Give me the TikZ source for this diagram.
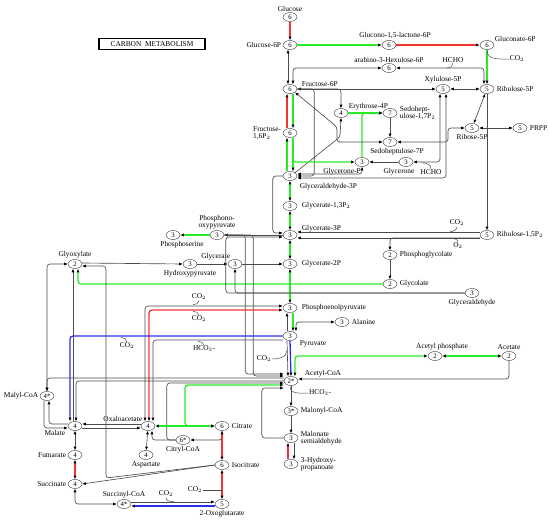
\documentclass[tikz,border=0pt]{standalone}
\usepackage{fontspec}
\setmainfont{Liberation Serif}
\usetikzlibrary{shapes.geometric, arrows.meta, positioning}
\definecolor{kred}{RGB}{245,50,50}
\definecolor{kgreen}{RGB}{40,235,40}
\definecolor{kblue}{RGB}{45,45,235}
\newcommand{\kfont}{\fontsize{7.4}{6.8}\selectfont}
\newcommand{\nfont}{\fontsize{6.8}{6.8}\selectfont}
\tikzstyle{cpd} = [ellipse, draw=black!80, fill=white, inner sep=0pt,
minimum width=14pt, minimum height=9pt, font=\nfont]
\tikzstyle{txt} = [inner sep=0.5pt, font=\kfont, align=left]
\tikzstyle{ln} = [draw=black!70, line width=0.65pt, rounded corners=3pt,
>={Latex[length=3.6pt,width=3pt,color=black]}]

\begin{document}
\begin{tikzpicture}[x=1pt, y=-1pt]
                    % Define styles for coloured lines
                    \tikzstyle{rl} = [ln, draw=kred, line width=1.3pt]
                    \tikzstyle{gl} = [ln, draw=kgreen, line width=1.3pt]
                    \tikzstyle{bl} = [ln, draw=kblue, line width=1.3pt]
                    \tikzstyle{sub} = [draw=black!70, line width=0.5pt]
                    \useasboundingbox (0,0) rectangle (550,522);

                    \node [draw, line width=1.1pt, minimum width=106pt, minimum height=10.5pt, inner sep=0pt, font=\kfont] (title) at (152,44) {CARBON\ \ METABOLISM};

                    % Place nodes
                    \node [cpd] (glc) at (290,17) {6};
                    \node [cpd] (glc6p) at (290,45) {6};
                    \node [cpd] (glcnl) at (389,45) {6};
                    \node [cpd] (glcn6p) at (487,45) {6};
                    \node [cpd] (hex6p) at (389,68) {6};
                    \node [cpd] (fru6p) at (290,89) {6};
                    \node [cpd] (xyl5p) at (443,89) {5};
                    \node [cpd] (ru5p) at (487,89) {5};
                    \node [cpd] (e4p) at (341,113) {4};
                    \node [cpd] (s17p) at (390,113) {7};
                    \node [cpd] (s7p) at (390,142) {7};
                    \node [cpd] (r5p) at (472,128) {5};
                    \node [cpd] (prpp) at (520,128) {5};
                    \node [cpd] (fbp) at (290,133) {6};
                    \node [cpd] (dhap) at (362,162) {3};
                    \node [cpd] (dha) at (406,162) {3};
                    \node [cpd] (gap) at (290,176) {3};
                    \node [cpd] (bpg) at (290,206) {3};
                    \node [cpd] (pg3) at (290,235) {3};
                    \node [cpd] (rubp) at (487,235) {5};
                    \node [cpd] (pglyc) at (390,255) {2};
                    \node [cpd] (glyclt) at (390,284) {2};
                    \node [cpd] (glyald) at (472,293) {3};
                    \node [cpd] (pg2) at (290,264) {3};
                    \node [cpd] (pep) at (290,308) {3};
                    \node [cpd] (ala) at (342,322) {3};
                    \node [cpd] (pyr) at (290,336) {3};
                    \node [cpd] (accoa) at (291,381) {2*};
                    \node [cpd] (acp) at (435,356) {2};
                    \node [cpd] (ace) at (509,356) {2};
                    \node [cpd] (malcoa) at (291,411) {3*};
                    \node [cpd] (msa) at (291,438) {3};
                    \node [cpd] (hp) at (291,464) {3};
                    \node [cpd] (php) at (217,235) {3};
                    \node [cpd] (pser) at (173,235) {3};
                    \node [cpd] (glx) at (75,264) {2};
                    \node [cpd] (hpyr) at (190,264) {3};
                    \node [cpd] (glyc) at (235,264) {3};
                    \node [cpd] (malylcoa) at (47,396) {4*};
                    \node [cpd] (mal) at (75,426) {4};
                    \node [cpd] (oaa) at (148,426) {4};
                    \node [cpd] (cit) at (222,426) {6};
                    \node [cpd] (citcoa) at (183,440) {6*};
                    \node [cpd] (asp) at (146,455) {4};
                    \node [cpd] (fum) at (75,455) {4};
                    \node [cpd] (icit) at (222,465) {6};
                    \node [cpd] (suc) at (75,484) {4};
                    \node [cpd] (succoa) at (124,504) {4*};
                    \node [cpd] (akg) at (222,504) {5};

                    % Compound names
                    \node [txt, above=0.5pt of glc] (glcl) {Glucose};
                    \node [txt, left=1pt of glc6p] (glc6pl) {Glucose-6P};
                    \node [txt, above=1pt of glcnl, xshift=6pt] (glcnll) {Glucono-1,5-lactone-6P};
                    \node [txt, right=0pt of glcn6p, yshift=6pt] (glcn6pl) {Gluconate-6P};
                    \node [txt, above=0.5pt of hex6p] (hex6pl) {arabino-3-Hexulose-6P};
                    \node [txt, right=4pt of fru6p, yshift=5pt] (fru6pl) {Fructose-6P};
                    \node [txt, above=1pt of xyl5p] (xyl5pl) {Xylulose-5P};
                    \node [txt, right=2pt of ru5p] (ru5pl) {Ribulose-5P};
                    \node [txt, right=0pt of e4p, yshift=6pt] (e4pl) {Erythrose-4P};
                    \node [txt, right=2pt of s17p] (s17pl) {Sedohept-\\ulose-1,7P$_2$};
                    \node [txt, below=1pt of s7p, xshift=7pt] (s7pl) {Sedoheptulose-7P};
                    \node [txt, below=1pt of r5p] (r5pl) {Ribose-5P};
                    \node [txt, right=2pt of prpp] (prppl) {PRPP};
                    \node [txt, left=1pt of fbp] (fbpl) {Fructose-\\1,6P$_2$};
                    \node [txt, below=0.5pt of dhap, xshift=-20pt] (dhapl) {Glycerone-P};
                    \node [txt, below=0.5pt of dha, xshift=-7pt] (dhal) {Glycerone};
                    \node [txt, below right=3pt and 4pt of gap] (gapl) {Glyceraldehyde-3P};
                    \node [txt, right=4pt of bpg] (bpgl) {Glycerate-1,3P$_2$};
                    \node [txt, right=4pt of pg3, yshift=6pt] (pg3l) {Glycerate-3P};
                    \node [txt, right=2pt of rubp] (rubpl) {Ribulose-1,5P$_2$};
                    \node [txt, right=2pt of pglyc] (pglycl) {Phosphoglycolate};
                    \node [txt, right=2pt of glyclt] (glycltl) {Glycolate};
                    \node [txt, below=1pt of glyald] (glyaldl) {Glyceraldehyde};
                    \node [txt, right=4pt of pg2] (pg2l) {Glycerate-2P};
                    \node [txt, right=4pt of pep] (pepl) {Phosphoenolpyruvate};
                    \node [txt, right=2pt of ala] (alal) {Alanine};
                    \node [txt, below right=1pt and 4pt of pyr] (pyrl) {Pyruvate};
                    \node [txt, right=6pt of accoa, yshift=7pt] (accoal) {Acetyl-CoA};
                    \node [txt, above=1pt of acp, xshift=7pt] (acpl) {Acetyl phosphate};
                    \node [txt, above=1pt of ace] (acel) {Acetate};
                    \node [txt, right=2pt of malcoa] (malcoal) {Malonyl-CoA};
                    \node [txt, right=2pt of msa] (msal) {Malonate\\semialdehyde};
                    \node [txt, right=2pt of hp] (hpl) {3-Hydroxy-\\propanoate};
                    \node [txt, above=1pt of php, align=center] (phpl) {Phosphono-\\oxypyruvate};
                    \node [txt, below=1pt of pser, xshift=9pt] (pserl) {Phosphoserine};
                    \node [txt, above=1pt of glx] (glxl) {Glyoxylate};
                    \node [txt, below=1pt of hpyr] (hpyrl) {Hydroxypyruvate};
                    \node [txt, left=-3pt of glyc, yshift=7pt] (glycl) {Glycerate};
                    \node [txt, left=1pt of malylcoa] (malylcoal) {Malyl-CoA};
                    \node [txt, left=2pt of mal, yshift=-7pt] (mall) {Malate};
                    \node [txt, left=-2pt of oaa, yshift=7pt] (oaal) {Oxaloacetate};
                    \node [txt, right=2pt of cit] (citl) {Citrate};
                    \node [txt, below=1pt of citcoa] (citcoal) {Citryl-CoA};
                    \node [txt, below=1pt of asp] (aspl) {Aspartate};
                    \node [txt, left=1pt of fum] (fuml) {Fumarate};
                    \node [txt, right=2pt of icit] (icitl) {Isocitrate};
                    \node [txt, left=1pt of suc] (sucl) {Succinate};
                    \node [txt, above=1pt of succoa] (succoal) {Succinyl-CoA};
                    \node [txt, below=1pt of akg] (akgl) {2-Oxoglutarate};

                    % Side compounds
                    \node [txt] (co2a) at (517,59) {CO$_2$};
                    \node [txt] (hcho1) at (453,60) {HCHO};
                    \node [txt] (hcho2) at (431,172) {HCHO};
                    \node [txt] (co2b) at (457,223) {CO$_2$};
                    \node [txt] (o2) at (458,246) {O$_2$};
                    \node [txt] (co2c) at (199,297) {CO$_2$};
                    \node [txt] (co2d) at (199,319) {CO$_2$};
                    \node [txt] (co2e) at (127,346) {CO$_2$};
                    \node [txt] (hco3a) at (204,349) {HCO$_3$-};
                    \node [txt] (co2f) at (264,359) {CO$_2$};
                    \node [txt] (hco3b) at (320,393) {HCO$_3$-};
                    \node [txt] (co2g) at (195,490) {CO$_2$};
                    \node [txt] (co2h) at (166,494) {CO$_2$};

                    % Draw edges: upper part
                    \path [rl,->] (glc) -- (glc6p);
                    \path [ln,<->] ([xshift=-2pt]glc6p.south) -- ([xshift=-2pt]fru6p.north);
                    \path [gl,->] (glc6p) -- (glcnl);
                    \path [rl,->] (glcnl) -- (glcn6p);
                    \path [gl,->] (glcn6p) -- (ru5p);
                    \path [ln,<->] (hex6p.west) -| ([xshift=3pt]fru6p.north);
                    \path [ln,<->] (hex6p.east) -| ([xshift=-3pt]ru5p.north);
                    \path [ln,<->] (fru6p) -- (xyl5p);
                    \path [ln,->] (fru6p.east) -| (e4p.north);
                    \path [ln,->] (fru6p.east) -| ([xshift=17pt]gap.east) -- (gap.east);
                    \path [ln,<->] (xyl5p) -- (ru5p);
                    \path [ln,<->] (ru5p) -- (r5p);
                    \path [ln,<->] (r5p) -- (prpp);
                    \path [gl,->] (e4p) -- (s17p);
                    \path [gl,->] (dhap.north) |- (s17p.west);
                    \path [ln,->] (s17p) -- (s7p);
                    \path [ln,<->] (fru6p.south east) -- (337,127) |- (s7p.west);
                    \path [ln,->] (gap.north east) -- (340,137) -- (e4p.south);
                    \path [ln,<->] (s7p.east) -| (448,128) -- (r5p.west);
                    \path [rl,->] ([xshift=-3pt]fbp.north) -- ([xshift=-3pt]fru6p.south);
                    \path [gl,->] ([xshift=3pt]fru6p.south) -- ([xshift=3pt]fbp.north);
                    \path [gl,->] ([xshift=3pt]fbp.south) |- (dhap.west);
                    \path [gl,->] ([xshift=3pt]fbp.south) -- ([xshift=3pt]gap.north);
                    \path [gl,->] ([xshift=-3pt]gap.north) -- ([xshift=-3pt]fbp.south);
                    \path [ln,<->] ([xshift=-3pt]xyl5p.south) |- (dha.east);
                    \path [ln,<->] ([yshift=-2pt]gap.east) -| ([xshift=3pt]xyl5p.south);
                    \path [ln,<->] ([yshift=2pt]gap.east) -| (dhap.south);
                    \path [ln,->] (dha) -- (dhap);

                    % Draw edges: middle part
                    \path [gl,<->] (gap) -- (bpg);
                    \path [gl,<->] (bpg) -- (pg3);
                    \path [gl,<->] (pg3) -- (pg2);
                    \path [gl,<->] (pg2) -- (pep);
                    \path [ln,->] (ru5p) -- (rubp);
                    \path [ln,->] ([yshift=3pt]rubp.west) -- ([yshift=3pt]pg3.east);
                    \path [ln,->] ([yshift=-3pt]rubp.west) -- ([yshift=-3pt]pg3.east);
                    \path [ln,->] ([yshift=-3pt]rubp.west) -| (pglyc.north);
                    \path [ln,->] (pglyc) -- (glyclt);
                    \path [gl,->] (glyclt.west) -| ([xshift=3pt]glx.south);
                    \path [ln,->] (gap.west) -- ++(-10,0) |- ([yshift=2pt]pg3.west);
                    \path [ln,->] (pg3.west) -- (php.east);
                    \path [gl,->] (php) -- (pser);
                    \path [ln,->] (php.east) -- ++(21,0) |- ([yshift=7pt]accoa.west);
                    \path [ln,->] (php.east) -- ++(29,0) |- ([yshift=5pt]accoa.west);
                    \path [ln,->] ([yshift=1pt]glx.east) -- (hpyr.west);
                    \path [ln,->] (hpyr) -- (glyc);
                    \path [ln,->] (glyc) -- (pg2);
                    \path [ln,->] (glyald.west) -| (glyc.south);
                    \path [ln,->] (glyald.west) -- ++(-239,0) |- ([yshift=-2pt]pg3.west);
                    \path [ln,<->] ([yshift=2pt]pep.west) -| ([xshift=-3pt]oaa.north);
                    \path [rl,<->] ([yshift=-2pt]pep.west) -| ([xshift=1pt]oaa.north);
                    \path [ln,->] ([yshift=-4pt]pyr.west) -| ([xshift=5pt]oaa.north);
                    \path [bl,->] (pyr.west) -| ([xshift=-5pt]mal.north);
                    \path [ln,->] ([xshift=-3pt]pyr.north) -- ([xshift=-3pt]pep.south);
                    \path [gl,->] ([xshift=3pt]pep.south) -- ([xshift=3pt]pyr.north);
                    \path [ln,<->] ([xshift=6pt]pyr.north) |- (ala.west);

                    % Draw edges: acetyl-CoA and lower part
                    \path [ln,->] ([xshift=-3pt]pyr.south) -- ([xshift=-3pt]accoa.north);
                    \path [bl,->] (pyr.south) -- (accoa.north);
                    \path [gl,<->] ([xshift=4pt]accoa.north) |- (acp.west);
                    \path [gl,<->] (acp) -- (ace);
                    \path [ln,->] (ace.south) |- ([yshift=2pt]accoa.east);
                    \path [ln,->] (accoa) -- (malcoa);
                    \path [ln,->] (malcoa) -- (msa);
                    \path [ln,->] ([xshift=3pt]msa.south) -- ([xshift=3pt]hp.north);
                    \path [rl,->] ([xshift=-3pt]hp.north) -- ([xshift=-3pt]msa.south);
                    \path [ln,->] (msa.west) -- ++(-22,0) |- ([yshift=-7pt]accoa.west);
                    \path [ln,->] (citcoa.west) -- ++(-9,0) |- ([yshift=-2pt]accoa.west);
                    \path [gl,<->] ([yshift=-4pt]accoa.west) -- (185,385) |- (cit.west);
                    \path [ln,<->] (glx.west) -| (malylcoa.north);
                    \path [ln,->] ([yshift=3pt]accoa.west) -| (malylcoa.north);
                    \path [ln,->] (accoa.west) -| ([xshift=1pt]mal.north);
                    \path [ln,->] ([xshift=-2pt]mal.north) -- ([xshift=-2pt]glx.south);
                    \path [ln,->] ([xshift=-3pt]malylcoa.south) |- ([yshift=-2pt]mal.west);
                    \path [ln,->] ([yshift=2pt]mal.west) -| ([xshift=2pt]malylcoa.south);
                    \path [ln,->] ([yshift=2pt]oaa.west) -- ([yshift=2pt]mal.east);
                    \path [ln,->] ([yshift=-2pt]mal.east) -- ([yshift=-2pt]oaa.west);
                    \path [gl,<->] (oaa) -- (cit);
                    \path [ln,<->] (oaa) -- (asp);
                    \path [ln,->] (cit.south) |- (citcoa.east);
                    \path [ln,->] (citcoa.west) -| ([xshift=4pt]oaa.south);
                    \path [rl,<->] (cit) -- (icit);
                    \path [rl,<->] (icit) -- (akg);
                    \path [ln,->] (icit.west) -- (suc.east);
                    \path [ln,->] (icit.west) -- (106,478) |- ([yshift=-2pt]glx.east);
                    \path [ln,<->] (mal) -- (fum);
                    \path [rl,<->] (fum) -- (suc);
                    \path [ln,<->] (suc.south) |- (succoa.west);
                    \path [ln,->] ([yshift=2pt]succoa.east) -- ([yshift=2pt]akg.west);
                    \path [bl,->] ([yshift=-2pt]akg.west) -- ([yshift=-2pt]succoa.east);

                    % Side compound hooks
                    \path [sub] (co2a.west) to[out=180,in=270] ++(-22,-8);
                    \path [sub] (hcho1.south) to[out=270,in=0] ++(-6,5);
                    \path [sub] (hcho2.north) to[out=90,in=0] ++(-9,-6);
                    \path [sub] (co2b.south) to[out=270,in=0] ++(-7,5);
                    \path [sub] (o2.north) to[out=90,in=0] ++(-7,-4);
                    \path [sub] (co2c.south) to[out=270,in=0] ++(-6,4);
                    \path [sub] (co2d.north) to[out=90,in=0] ++(-6,-4);
                    \path [sub] (co2e.north) to[out=90,in=0] ++(-6,-5);
                    \path [sub] (hco3a.north) to[out=90,in=0] ++(-6,-4);
                    \path [sub] (co2f.east) to[out=0,in=270] ++(15,-8);
                    \path [sub] (hco3b.west) to[out=180,in=270] ++(-18,-6);
                    \path [sub] (co2g.east) -- ++(19,0);
                    \path [sub] (co2h.south) to[out=270,in=180] ++(8,4);
                \end{tikzpicture}
\end{document}
